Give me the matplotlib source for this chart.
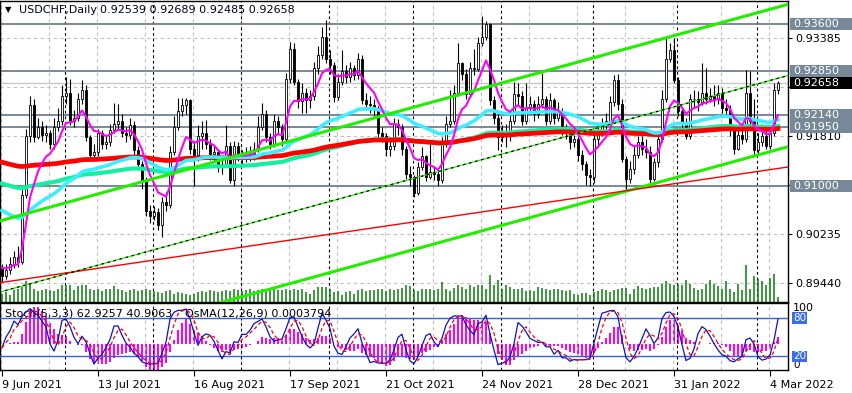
import numpy as np
import pandas as pd
import matplotlib
matplotlib.use("Agg")
import matplotlib.pyplot as plt
from matplotlib.patches import Rectangle

# ---- data --------------------------------------------------------------
symbol = "USDCHF,Daily"
last_ohlc = [0.92539, 0.92689, 0.92485, 0.92658]   # O H L C of current bar
first_open = 0.8970

# daily closes / highs / lows in pips (x 0.0001), 9 Jun 2021 .. 7 Mar 2022
close_p = [8955, 8965, 8975, 8985, 8978, 9085, 9180, 9230, 9178, 9195,
           9182, 9185, 9168, 9195, 9205, 9245, 9250, 9205, 9210, 9240,
           9255, 9178, 9150, 9155, 9185, 9168, 9170, 9190, 9200, 9205,
           9185, 9182, 9198, 9158, 9135, 9110, 9060, 9052, 9058, 9038,
           9075, 9070, 9155, 9195, 9220, 9230, 9238, 9160, 9150, 9180,
           9185, 9168, 9152, 9155, 9130, 9135, 9165, 9110, 9165, 9150,
           9145, 9150, 9152, 9160, 9195, 9215, 9178, 9168, 9205, 9195,
           9175, 9272, 9320, 9268, 9236, 9250, 9238, 9245, 9290, 9310,
           9340, 9305, 9295, 9243, 9268, 9285, 9275, 9290, 9278, 9305,
           9238, 9232, 9230, 9225, 9185, 9180, 9160, 9165, 9200, 9195,
           9160, 9120, 9115, 9088, 9130, 9148, 9115, 9122, 9120, 9110,
           9168, 9200, 9205, 9250, 9297, 9280, 9248, 9290, 9288, 9330,
           9340, 9360, 9238, 9210, 9178, 9185, 9180, 9205, 9248, 9245,
           9205, 9225, 9232, 9215, 9232, 9240, 9205, 9238, 9210, 9220,
           9190, 9185, 9170, 9175, 9150, 9135, 9118, 9115, 9175, 9185,
           9200, 9205, 9235, 9270, 9232, 9143, 9112, 9128, 9150, 9170,
           9160, 9155, 9112, 9138, 9175, 9240, 9305, 9318, 9270, 9220,
           9200, 9180, 9240, 9240, 9235, 9250, 9240, 9245, 9240, 9250,
           9225, 9222, 9190, 9160, 9182, 9175, 9250, 9205, 9158, 9170,
           9180, 9165, 9185, 9254, 9266]
high_p = [8975, 8975, 8985, 8995, 9004, 9095, 9192, 9245, 9240, 9210,
          9205, 9198, 9190, 9210, 9225, 9262, 9275, 9272, 9222, 9250,
          9270, 9262, 9182, 9168, 9192, 9190, 9182, 9200, 9233, 9232,
          9215, 9195, 9210, 9205, 9165, 9140, 9115, 9070, 9068, 9065,
          9082, 9090, 9165, 9212, 9241, 9242, 9242, 9240, 9172, 9198,
          9205, 9206, 9175, 9165, 9160, 9145, 9198, 9170, 9172, 9170,
          9158, 9162, 9165, 9170, 9212, 9233, 9222, 9185, 9215, 9212,
          9200, 9282, 9332, 9330, 9272, 9265, 9258, 9255, 9300, 9325,
          9356, 9367, 9318, 9300, 9280, 9318, 9295, 9300, 9295, 9314,
          9310, 9250, 9245, 9240, 9228, 9195, 9185, 9178, 9210, 9208,
          9200, 9165, 9132, 9118, 9138, 9162, 9150, 9170, 9132, 9128,
          9178, 9212, 9254, 9262, 9330, 9300, 9288, 9300, 9320, 9340,
          9374, 9365, 9362, 9245, 9215, 9198, 9200, 9215, 9268, 9265,
          9252, 9265, 9245, 9238, 9245, 9282, 9245, 9250, 9242, 9235,
          9225, 9200, 9190, 9182, 9180, 9158, 9140, 9128, 9190, 9198,
          9210, 9218, 9245, 9278, 9280, 9240, 9148, 9140, 9165, 9180,
          9180, 9175, 9165, 9145, 9182, 9255, 9338, 9330, 9338, 9275,
          9225, 9210, 9248, 9255, 9252, 9297, 9290, 9258, 9262, 9262,
          9258, 9240, 9230, 9195, 9195, 9195, 9287, 9285, 9240, 9185,
          9200, 9190, 9195, 9265, 9269]
low_p = [8945, 8950, 8958, 8968, 8970, 8975, 9080, 9170, 9170, 9175,
         9172, 9170, 9160, 9160, 9188, 9198, 9232, 9198, 9195, 9205,
         9232, 9172, 9142, 9140, 9148, 9160, 9160, 9165, 9185, 9192,
         9178, 9170, 9176, 9150, 9125, 9095, 9052, 9040, 9045, 9030,
         9018, 9060, 9065, 9150, 9190, 9212, 9215, 9152, 9100, 9140,
         9160, 9160, 9142, 9140, 9122, 9120, 9130, 9105, 9100, 9140,
         9135, 9138, 9140, 9142, 9155, 9190, 9170, 9160, 9162, 9185,
         9165, 9170, 9265, 9262, 9225, 9218, 9217, 9225, 9238, 9280,
         9305, 9298, 9280, 9235, 9238, 9262, 9265, 9268, 9270, 9272,
         9232, 9222, 9218, 9212, 9178, 9170, 9148, 9148, 9158, 9182,
         9150, 9112, 9100, 9082, 9085, 9125, 9108, 9112, 9110, 9100,
         9105, 9162, 9195, 9200, 9245, 9270, 9240, 9245, 9278, 9285,
         9325, 9335, 9230, 9200, 9158, 9170, 9162, 9172, 9200, 9230,
         9198, 9200, 9215, 9205, 9210, 9225, 9198, 9200, 9200, 9205,
         9182, 9175, 9160, 9162, 9140, 9125, 9101, 9100, 9105, 9165,
         9180, 9190, 9198, 9228, 9222, 9138, 9093, 9105, 9120, 9145,
         9150, 9145, 9105, 9108, 9130, 9170, 9235, 9300, 9265, 9212,
         9190, 9175, 9175, 9225, 9220, 9230, 9232, 9235, 9228, 9232,
         9218, 9212, 9180, 9152, 9158, 9168, 9170, 9198, 9150, 9150,
         9165, 9160, 9160, 9180, 9249]
tick_volume = [8, 10, 7, 12, 13, 15, 21, 18, 13, 11,
               12, 13, 12, 11, 13, 17, 17, 17, 12, 16,
               17, 17, 13, 12, 13, 11, 13, 13, 16, 13,
               12, 10, 12, 13, 11, 12, 13, 12, 11, 10,
               9, 11, 12, 8, 10, 9, 8, 7, 8, 10,
               11, 10, 12, 11, 10, 11, 12, 11, 13, 12,
               11, 12, 13, 11, 12, 13, 12, 14, 13, 12,
               12, 13, 12, 13, 12, 13, 10, 8, 12, 15,
               15, 15, 13, 10, 11, 7, 10, 11, 8, 12,
               13, 11, 12, 12, 13, 13, 11, 13, 12, 13,
               14, 17, 16, 12, 11, 13, 13, 13, 12, 13,
               20, 13, 11, 14, 17, 15, 13, 17, 15, 17,
               17, 13, 27, 17, 22, 13, 17, 15, 13, 13,
               14, 11, 12, 11, 15, 14, 13, 12, 13, 13,
               12, 11, 12, 8, 7, 9, 9, 7, 10, 11,
               13, 12, 10, 12, 13, 14, 14, 8, 13, 16,
               14, 13, 14, 15, 15, 18, 21, 18, 17, 18,
               17, 22, 18, 14, 12, 13, 18, 22, 18, 16,
               13, 21, 13, 10, 18, 12, 37, 13, 26, 23,
               21, 17, 24, 28, 5]

date_labels = ["9 Jun 2021", "13 Jul 2021", "16 Aug 2021", "17 Sep 2021",
               "21 Oct 2021", "24 Nov 2021", "28 Dec 2021", "31 Jan 2022",
               "4 Mar 2022"]
date_bars = [0, 24, 48, 72, 96, 120, 144, 168, 192]
month_start_bars = [16, 38, 60, 82, 103, 125, 148, 169, 189]

levels = [0.93600, 0.92850, 0.92140, 0.91950, 0.91000]
grid_prices = [0.93385, 0.92590, 0.91810, 0.91020, 0.90235, 0.89440]
# scale labels that the level / price boxes hide completely
hidden_grid_labels = [0.92590, 0.91020]

# trend objects: (bar index, price)
channel_top = [(-1, 0.9043), (197, 0.9393)]
channel_width = 0.0229
red_trend = [(-1, 0.8944), (197, 0.9131)]

# MA values carried in from before the visible window
ema_seed = {8: 0.8972, 50: 0.9065, 144: 0.9106, 200: 0.9140}

stoch_text = "Stoch(5,3,3) 62.9257 40.9063"
osma_text = "OsMA(12,26,9) 0.0003794"

# ---- series --------------------------------------------------------------
close = np.array(close_p) / 1e4
high = np.array(high_p) / 1e4
low = np.array(low_p) / 1e4
close[-1], high[-1], low[-1] = last_ohlc[3], last_ohlc[1], last_ohlc[2]
open_ = np.r_[first_open, close[:-1]]
open_[-1] = last_ohlc[0]
n = len(close)
x = np.arange(n)


def ema(values, period, seed):
    out = np.empty(len(values))
    prev, k = seed, 2.0 / (period + 1)
    for i, v in enumerate(values):
        prev += k * (v - prev)
        out[i] = prev
    return out


ma_fast = ema(close, 8, ema_seed[8])
ma50 = ema(close, 50, ema_seed[50])
ma144 = ema(close, 144, ema_seed[144])
ma200 = ema(close, 200, ema_seed[200])

hh = pd.Series(high).rolling(5, min_periods=1).max()
ll = pd.Series(low).rolling(5, min_periods=1).min()
num = (pd.Series(close) - ll).rolling(3, min_periods=1).sum()
den = (hh - ll).rolling(3, min_periods=1).sum()
stoch_k = 100 * num / den
stoch_d = stoch_k.rolling(3, min_periods=1).mean()

macd = ema(close, 12, close[0]) - ema(close, 26, close[0])
osma = macd - pd.Series(macd).rolling(9, min_periods=1).mean().values

# ---- figure ----------------------------------------------------------------
W, H = 852, 393
fig = plt.figure(figsize=(W / 100, H / 100), dpi=100)
fig.patch.set_facecolor("white")


def px_axes(x0, y0, x1, y1):
    return fig.add_axes([x0 / W, 1 - y1 / H, (x1 - x0) / W, (y1 - y0) / H])


ax = px_axes(0, 1, 788, 302)
sub = px_axes(0, 303, 788, 370)
for a in (ax, sub):
    a.set_xlim(-0.5, 196.5)
    for s in a.spines.values():
        s.set_color("black")
        s.set_linewidth(1)
ax.set_ylim(0.89134, 0.93975)

grid_kw = dict(color="#c0c0c0", lw=0.8, ls=(0, (3, 3)), zorder=0.5)
sep_kw = dict(color="black", lw=0.8, ls=(0, (2.5, 2.5)), zorder=0.6)
for g in grid_prices:
    ax.axhline(g, **grid_kw)
for b in range(0, n + 2, 12):
    ax.axvline(b - 0.25, **grid_kw)
    sub.axvline(b - 0.25, **grid_kw)
for m in month_start_bars:
    ax.axvline(m - 0.25, **sep_kw)
    sub.axvline(m - 0.25, **sep_kw)

for lv in levels:
    ax.axhline(lv, color="#708090", lw=1.3, zorder=1)
ax.axhline(close[-1], color="#c8c8c8", lw=1.0, zorder=1)

# volumes along the bottom of the price window (1 unit = 1 px)
ax.vlines(x, 0, np.array(tick_volume) / 301, transform=ax.get_xaxis_transform(),
          color="#0b7a0b", lw=1.1, zorder=1.5)

# candles
up = close >= open_
ax.vlines(x, low, high, color="black", lw=0.8, zorder=2)
ax.bar(x, np.maximum(np.abs(close - open_), 0.00002), bottom=np.minimum(open_, close),
       width=0.62, color=np.where(up, "white", "black"), edgecolor="black",
       linewidth=0.6, zorder=3)

# moving averages
ax.plot(x, ma144, color="#14f0a0", lw=3.0, zorder=4)
ax.plot(x, ma200, color="#ff0000", lw=3.4, zorder=4.2)
ax.plot(x, ma50, color="#3ceeff", lw=2.6, zorder=4.4)
ax.plot(x, ma_fast, color="#ff00ff", lw=1.5, zorder=4.6)

# trend channel
cx = np.array([p[0] for p in channel_top])
cy = np.array([p[1] for p in channel_top])
ax.plot(cx, cy, color="#22ee00", lw=2.2, zorder=5)
ax.plot(cx, cy - channel_width, color="#22ee00", lw=2.2, zorder=5)
ax.plot(cx, cy - channel_width / 2, color="#22ee00", lw=0.9, zorder=5)
ax.plot(cx, cy - channel_width / 2, color="black", lw=0.9, ls=(0, (2, 3)), zorder=5.1)
ax.plot([p[0] for p in red_trend], [p[1] for p in red_trend], color="red", lw=1.0, zorder=5)

# price scale
ax.set_xticks([])
ax.yaxis.tick_right()
ax.set_yticks(grid_prices)
ax.set_yticklabels(["" if g in hidden_grid_labels else f"{g:.5f}" for g in grid_prices])
ax.tick_params(axis="y", length=3, pad=2, labelsize=8, colors="black")

ytrans = ax.get_yaxis_transform()
box_h = 12 / 6218


def price_box(price, fc):
    ax.add_patch(Rectangle((790 / 788, price - box_h / 2), 62 / 788, box_h,
                           transform=ytrans, fc=fc, ec="none", clip_on=False, zorder=9))
    ax.text(793 / 788, price, f"{price:.5f}", transform=ytrans, ha="left", va="center",
            fontsize=8, color="white", clip_on=False, zorder=10)


for lv in levels:
    price_box(lv, "#778899")
price_box(close[-1], "black")

# title
ty = 1 - 10 / H
fig.text(5 / W, ty, "\u25bc", fontsize=6, va="center", color="black")
fig.text(19 / W, ty, symbol, fontsize=8, va="center", color="#000020")
fig.text(100 / W, ty, " ".join(f"{v:.5f}" for v in last_ohlc), fontsize=8,
         va="center", color="#000020")

# ---- oscillator window ----------------------------------------------------------
oax = sub.twinx()
oax.bar(x, osma, width=0.7, color="#ff00ff", zorder=2)
span = osma.max() / 0.556
oax.set_ylim(-0.384 * span, 0.616 * span)
oax.set_yticks([])
for s in oax.spines.values():
    s.set_visible(False)
sub.set_zorder(oax.get_zorder() + 1)
sub.patch.set_visible(False)

sub.set_ylim(-1.2, 103)
sub.axhline(80, color="#3a5fe0", lw=1.0, zorder=3)
sub.axhline(20, color="#3a5fe0", lw=1.0, zorder=3)
sub.text(5 / 788, 0.85, stoch_text, transform=sub.transAxes, fontsize=8, va="center", zorder=1)
sub.text(185 / 788, 0.85, osma_text, transform=sub.transAxes, fontsize=8, va="center", zorder=1)
sub.plot(x, stoch_k, color="#0a14c8", lw=0.9, zorder=4)
sub.plot(x, stoch_d, color="red", lw=0.9, ls=(0, (3, 2)), zorder=4)

sub.set_yticks([])
strans = sub.get_yaxis_transform()
sub.text(793 / 788, 103, "100", transform=strans, fontsize=8, va="top", clip_on=False)
sub.text(793 / 788, -1.2, "0", transform=strans, fontsize=7.5, va="bottom", clip_on=False)
for lvl in (80, 20):
    sub.text(793 / 788, lvl, str(lvl), transform=strans, fontsize=7.5, va="center",
             color="white", clip_on=False,
             bbox=dict(boxstyle="square,pad=0.08", fc="#3a6ee8", ec="none"))

sub.set_xticks(date_bars)
sub.set_xticklabels(date_labels, ha="left")
sub.tick_params(axis="x", length=4, pad=3, labelsize=8, colors="black")

fig.savefig("out.png", dpi=100)
